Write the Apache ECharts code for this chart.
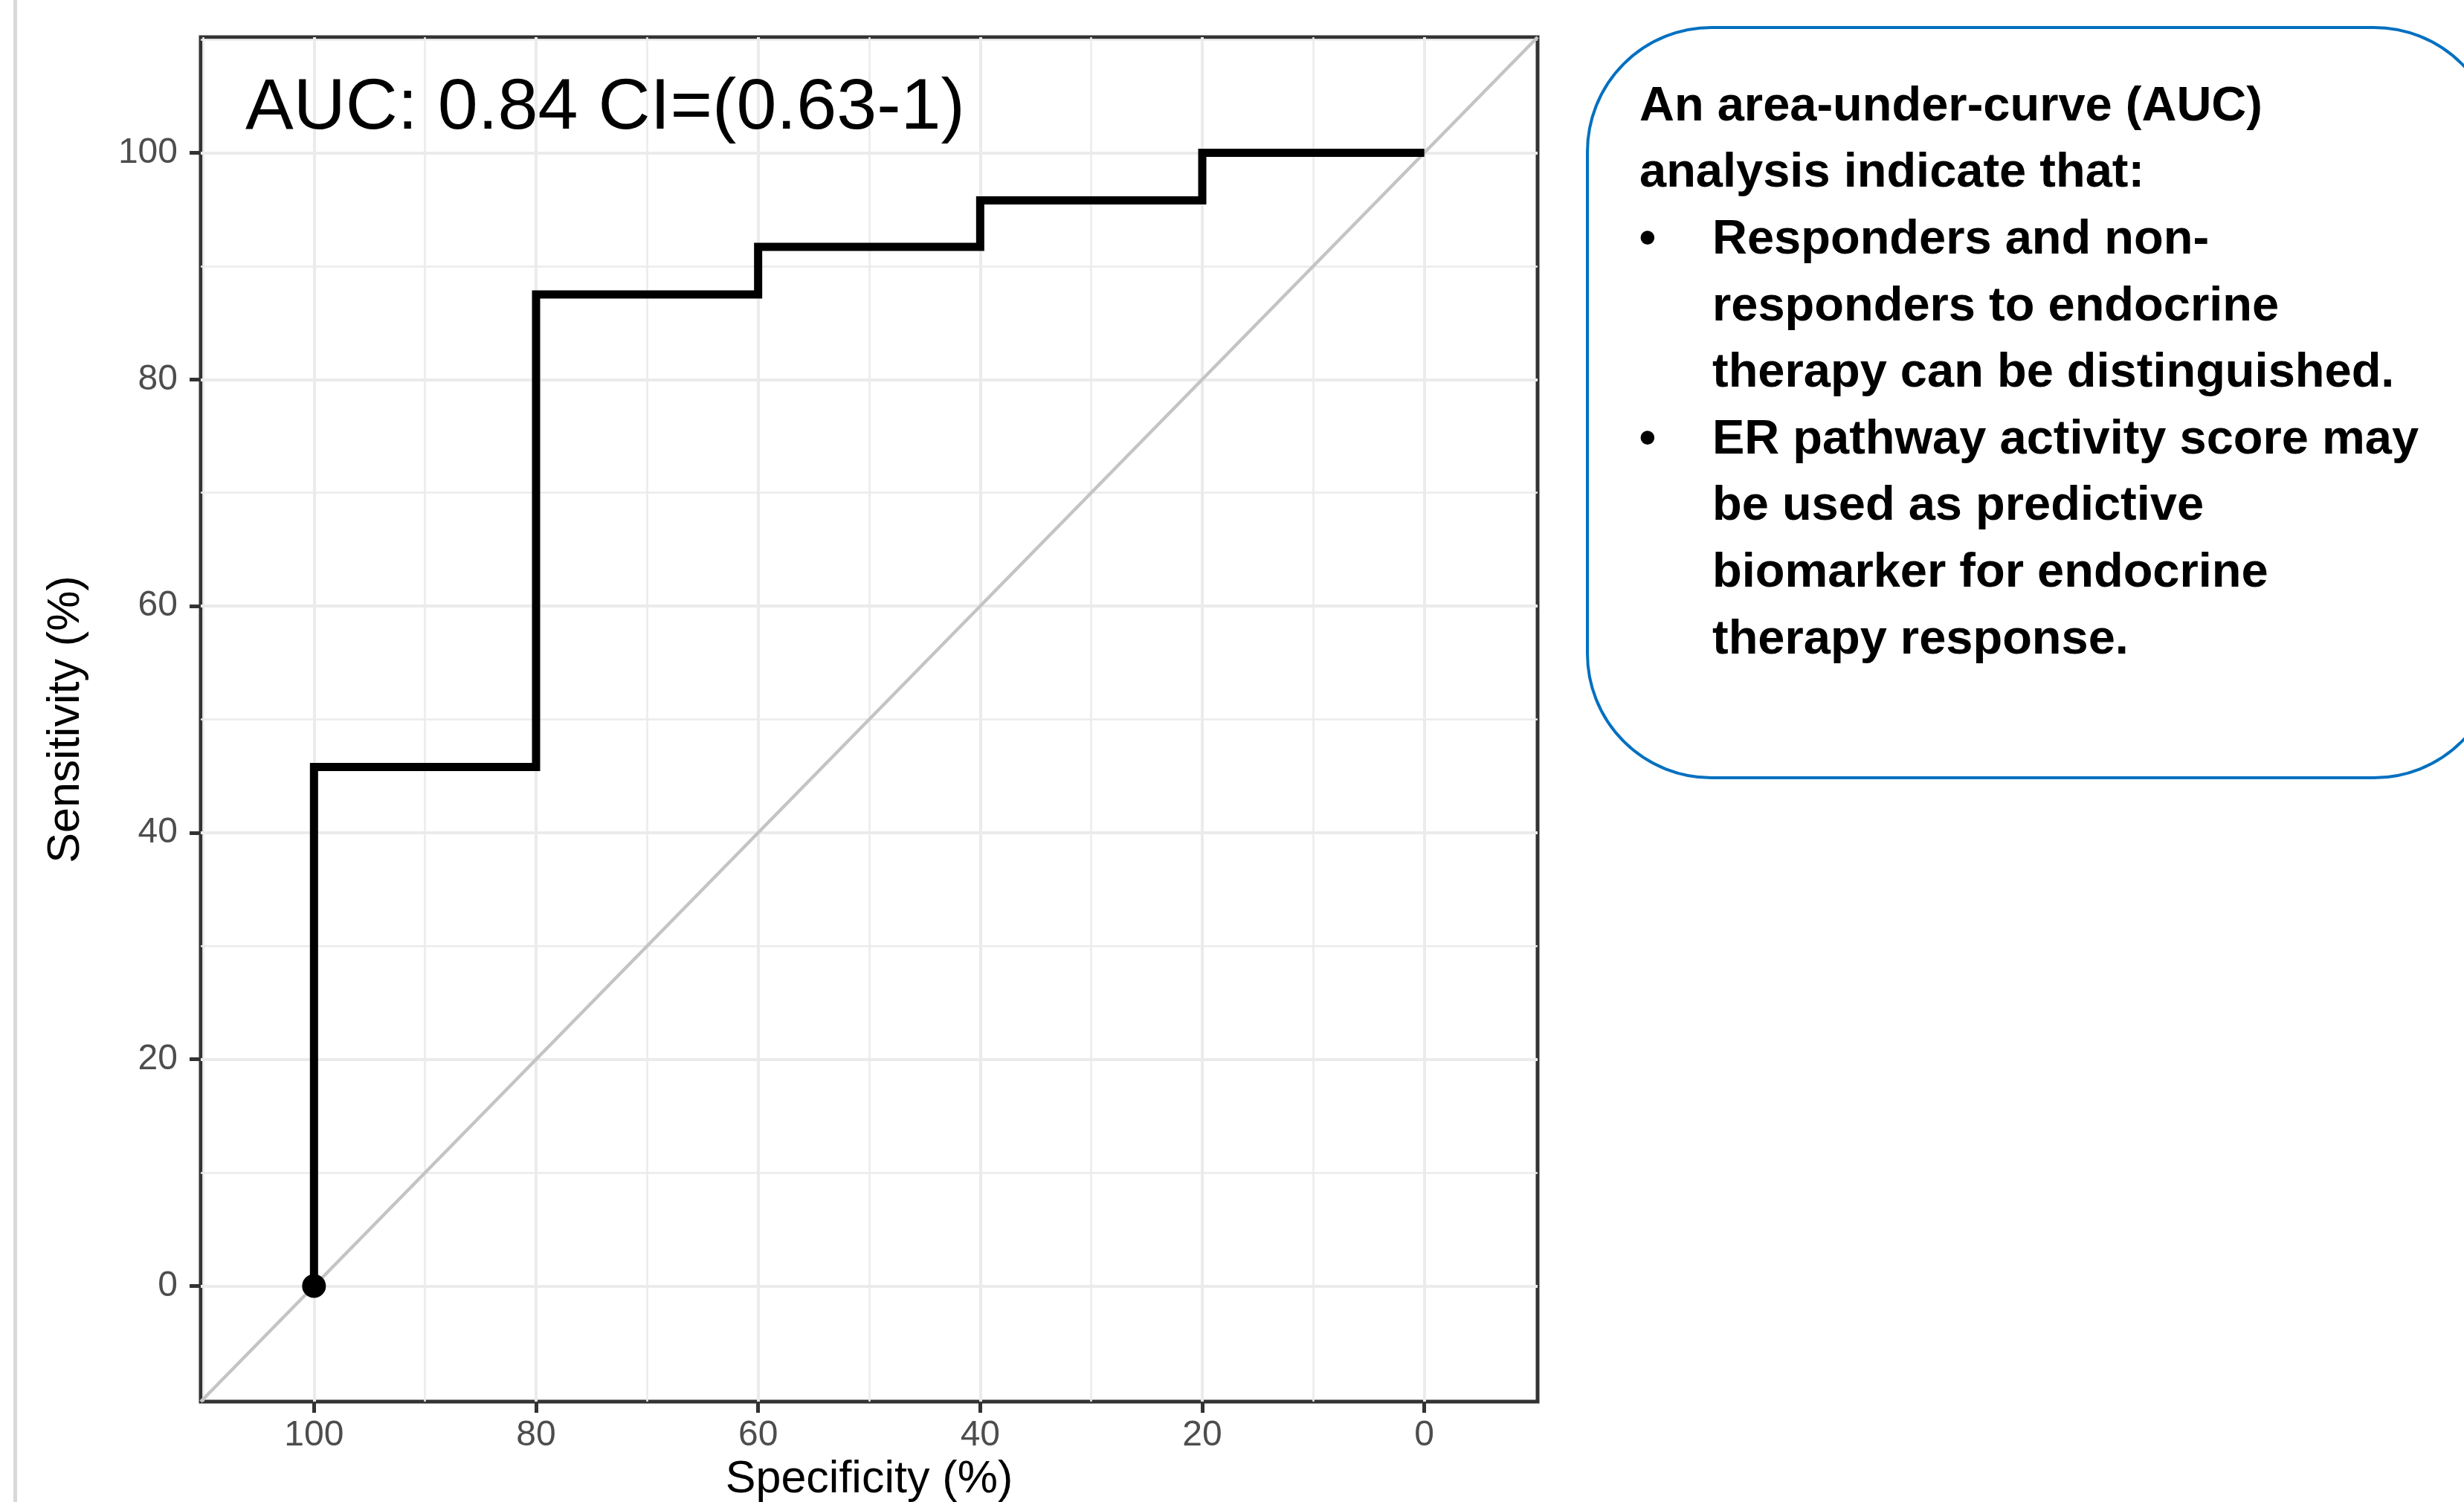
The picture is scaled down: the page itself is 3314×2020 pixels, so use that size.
<!DOCTYPE html>
<html><head><meta charset="utf-8">
<script src="https://cdn.jsdelivr.net/npm/echarts@6/dist/echarts.min.js"></script>
<style>html,body{margin:0;padding:0;background:#fff;overflow:hidden}#c{width:3314px;height:2020px}</style>
</head><body><div id="c"></div>
<script>
// ROC curve vertices (specificity %, sensitivity %)
const specificity = [100, 100, 80, 80, 60, 60, 40, 40, 20, 20, 0];
const sensitivity = [0, 45.8, 45.8, 87.5, 87.5, 91.7, 91.7, 95.8, 95.8, 100, 100];
const startPoint = [100, 0];
const tickValues = [0, 20, 40, 60, 80, 100];
const minorValues = [10, 30, 50, 70, 90, 110];
const axisMin = -10.2, axisMax = 110.2;
const aucLabel = 'AUC: 0.84 CI=(0.63-1)';
const xTitle = 'Specificity (%)';
const yTitle = 'Sensitivity (%)';
const noteLines = [
  {text: 'An area-under-curve (AUC)', bullet: false, indent: false},
  {text: 'analysis indicate that:', bullet: false, indent: false},
  {text: 'Responders and non-', bullet: true, indent: true},
  {text: 'responders to endocrine', bullet: false, indent: true},
  {text: 'therapy can be distinguished.', bullet: false, indent: true},
  {text: 'ER pathway activity score may', bullet: true, indent: true},
  {text: 'be used as predictive', bullet: false, indent: true},
  {text: 'biomarker for endocrine', bullet: false, indent: true},
  {text: 'therapy response.', bullet: false, indent: true}
];

const FONT = '"Liberation Sans", Arial, sans-serif';
const rocData = specificity.map((s, i) => [s, sensitivity[i]]);
const diagonal = [[axisMax, 100 - axisMax], [axisMin, 100 - axisMin]];

const chart = echarts.init(document.getElementById('c'), null, {renderer: 'canvas'});

function gridLines(values, axis, width) {
  return values.map(v => ({[axis]: v, lineStyle: {color: '#EBEBEB', width: width, type: 'solid'}}));
}

const graphics = [
  {type: 'rect', shape: {x: 18, y: 0, width: 5, height: 2020}, style: {fill: '#D9D9D9'}, z: 0},
  {type: 'rect', shape: {x: 2135, y: 37, width: 1225, height: 1009, r: 167},
   style: {fill: 'none', stroke: '#0070C0', lineWidth: 4}, z: 1},
  {type: 'text', x: 330, y: 176 - 0.31 * 97, z: 10,
   style: {text: aucLabel, font: '97px ' + FONT, fill: '#000', verticalAlign: 'middle', align: 'left'}}
];
noteLines.forEach((ln, i) => {
  const base = 164 + i * 89.6;
  const fs = 65;
  graphics.push({type: 'text', x: ln.indent ? 2303 : 2205, y: base - 0.31 * fs, z: 10,
    style: {text: ln.text, font: 'bold ' + fs + 'px ' + FONT, fill: '#000', verticalAlign: 'middle', align: 'left'}});
  if (ln.bullet) {
    graphics.push({type: 'text', x: 2216, y: base - 0.31 * fs, z: 10,
      style: {text: '\u2022', font: 'bold ' + fs + 'px ' + FONT, fill: '#000', verticalAlign: 'middle', align: 'center'}});
  }
});

const axisCommon = {
  type: 'value', min: axisMin, max: axisMax,
  splitLine: {show: false},
  axisLine: {show: false, onZero: false},
  axisTick: {show: true, customValues: tickValues, length: 15, lineStyle: {color: '#333333', width: 5}},
  nameLocation: 'middle',
  nameTextStyle: {fontSize: 61, color: '#000', fontFamily: FONT}
};

chart.setOption({
  backgroundColor: '#fff',
  animation: false,
  grid: {left: 270, right: 1246, top: 50, bottom: 135, show: true, borderColor: '#333333', borderWidth: 5,
         backgroundColor: '#fff', containLabel: false, outerBoundsMode: 'none'},
  xAxis: Object.assign({}, axisCommon, {
    inverse: true, name: xTitle, nameGap: 73, position: 'bottom',
    axisLabel: {customValues: tickValues, margin: 22, color: '#4D4D4D', fontSize: 48, fontFamily: FONT}
  }),
  yAxis: Object.assign({}, axisCommon, {
    name: yTitle, nameGap: 150, position: 'left',
    axisLabel: {customValues: tickValues, margin: 31, color: '#4D4D4D', fontSize: 48, fontFamily: FONT}
  }),
  graphic: graphics,
  series: [
    {type: 'line', name: 'gridMinor', data: [], z: 1, silent: true,
     markLine: {z: 1, silent: true, symbol: 'none', label: {show: false}, animation: false,
       data: gridLines(minorValues, 'xAxis', 2.5).concat(gridLines(minorValues, 'yAxis', 2.5))}},
    {type: 'line', name: 'gridMajor', data: [], z: 1, silent: true,
     markLine: {z: 1, silent: true, symbol: 'none', label: {show: false}, animation: false,
       data: gridLines(tickValues, 'xAxis', 4).concat(gridLines(tickValues, 'yAxis', 4))}},
    {type: 'line', name: 'diagonal', data: diagonal, z: 2, silent: true, showSymbol: false,
     lineStyle: {color: '#C4C4C4', width: 4.5}},
    {type: 'line', name: 'ROC', data: rocData, z: 3, showSymbol: false,
     lineStyle: {color: '#000', width: 11, join: 'miter', cap: 'butt'}},
    {type: 'scatter', name: 'start', data: [startPoint], z: 4, symbolSize: 32,
     itemStyle: {color: '#000', opacity: 1}}
  ]
});
</script></body></html>
